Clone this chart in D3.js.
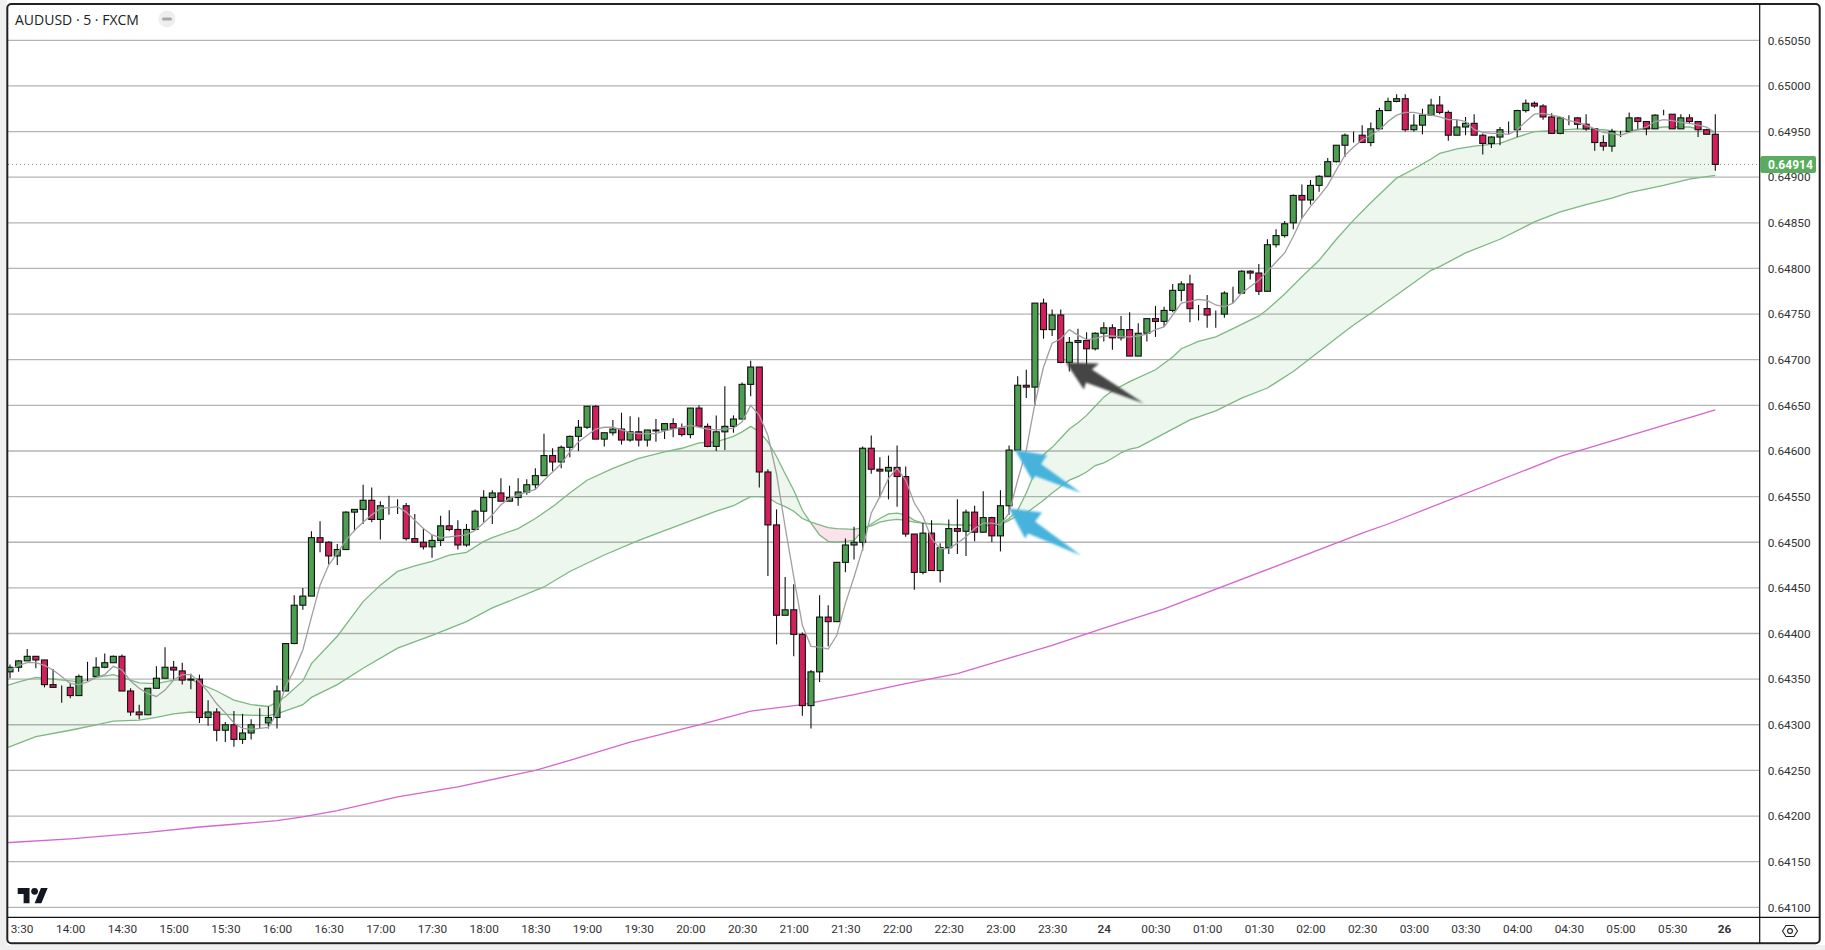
<!DOCTYPE html>
<html><head><meta charset="utf-8">
<script src="https://cdn.jsdelivr.net/npm/d3@7"></script>
<style>
html,body{margin:0;padding:0;background:#fff;overflow:hidden}
svg{display:block}
text{font-family:Roboto,sans-serif}
</style></head><body><svg id="c" width="1825" height="950"></svg>
<script>
// All prices in points of 0.00001
const opensPts=[64358,64363,64370,64375,64371,64344,64341,64341,64332,64353,
64353,64363,64368,64375,64337,64314,64311,64340,64351,64363,
64359,64350,64350,64308,64314,64294,64300,64284,64291,64301,
64302,64308,64337,64389,64431,64441,64505,64500,64485,64492,
64533,64536,64546,64525,64540,64540,64540,64504,64500,64495,
64502,64518,64514,64497,64514,64534,64549,64554,64545,64549,
64555,64563,64573,64595,64588,64604,64616,64626,64649,64613,
64620,64624,64612,64621,64612,64623,64623,64630,64625,64618,
64647,64627,64605,64621,64627,64635,64673,64692,64577,64519,
64420,64426,64399,64321,64358,64418,64413,64478,64497,64500,
64603,64580,64578,64582,64572,64509,64467,64510,64469,64494,
64515,64512,64533,64511,64527,64507,64540,64601,64672,64670,
64762,64733,64749,64697,64719,64721,64712,64729,64735,64724,
64733,64704,64729,64745,64742,64754,64776,64783,64756,64756,
64750,64750,64773,64773,64797,64795,64775,64826,64836,64850,
64880,64875,64891,64901,64917,64935,64946,64946,64938,64953,
64973,64983,64986,64952,64957,64968,64979,64971,64946,64955,
64959,64946,64937,64944,64952,64952,64973,64981,64978,64966,
64948,64965,64965,64958,64953,64938,64934,64950,64950,64965,
64961,64953,64969,64969,64953,64965,64961,64952,64947];
const highsPts=[64366,64371,64383,64375,64371,64361,64343,64346,64355,64369,
64374,64378,64376,64377,64340,64322,64340,64364,64385,64370,
64368,64356,64355,64327,64318,64303,64315,64312,64306,64318,
64320,64343,64389,64442,64450,64512,64523,64501,64498,64534,
64536,64563,64560,64545,64551,64547,64543,64531,64515,64508,
64529,64535,64524,64520,64536,64557,64557,64570,64562,64570,
64569,64581,64619,64603,64606,64617,64634,64649,64650,64620,
64634,64642,64638,64637,64623,64635,64630,64636,64630,64647,
64650,64630,64639,64671,64639,64675,64699,64692,64580,64536,
64462,64454,64401,64360,64442,64431,64478,64504,64517,64605,
64617,64593,64595,64606,64583,64509,64521,64524,64499,64525,
64547,64536,64540,64556,64528,64557,64606,64682,64689,64762,
64767,64755,64755,64725,64734,64730,64730,64741,64739,64748,
64752,64740,64745,64759,64758,64783,64786,64793,64760,64771,
64754,64775,64780,64798,64798,64805,64832,64843,64852,64881,
64892,64897,64902,64921,64935,64948,64950,64957,64960,64976,
64987,64991,64991,64969,64975,64986,64989,64973,64963,64966,
64969,64948,64945,64955,64961,64974,64985,64983,64980,64970,
64966,64968,64966,64969,64953,64946,64953,64951,64971,64966,
64961,64969,64974,64969,64969,64969,64961,64953,64969];
const lowsPts=[64351,64358,64370,64362,64341,64341,64324,64329,64332,64348,
64352,64362,64368,64337,64310,64306,64311,64340,64351,64349,
64344,64339,64302,64299,64282,64281,64276,64279,64284,64296,
64296,64296,64337,64389,64426,64441,64489,64476,64475,64492,
64512,64520,64522,64503,64530,64531,64502,64500,64492,64483,
64496,64512,64492,64495,64514,64522,64520,64545,64545,64540,
64552,64558,64573,64578,64581,64593,64600,64624,64613,64605,
64617,64607,64610,64605,64605,64610,64613,64615,64616,64614,
64627,64604,64600,64601,64620,64635,64660,64560,64463,64388,
64420,64375,64310,64296,64347,64386,64413,64467,64481,64491,
64575,64549,64547,64539,64506,64448,64465,64469,64456,64487,
64487,64485,64501,64511,64500,64490,64530,64601,64658,64650,
64723,64726,64696,64687,64682,64683,64710,64720,64711,64721,
64704,64704,64720,64725,64736,64752,64764,64741,64743,64735,
64735,64746,64762,64773,64788,64771,64775,64823,64834,64843,
64855,64870,64884,64901,64916,64922,64938,64938,64934,64953,
64973,64982,64950,64950,64947,64968,64969,64940,64946,64946,
64946,64925,64932,64935,64947,64944,64971,64976,64963,64948,
64947,64957,64953,64951,64929,64929,64928,64944,64950,64952,
64946,64953,64968,64953,64953,64959,64944,64947,64907];
const closesPts=[64363,64370,64375,64371,64344,64341,64341,64332,64353,64353,
64363,64368,64375,64337,64314,64311,64340,64351,64363,64360,
64349,64349,64308,64314,64294,64300,64284,64291,64300,64301,
64308,64337,64389,64431,64441,64505,64500,64485,64492,64533,
64536,64546,64525,64540,64540,64540,64504,64500,64495,64502,
64518,64514,64497,64514,64534,64549,64554,64545,64549,64555,
64563,64573,64595,64588,64604,64616,64626,64649,64613,64620,
64624,64612,64621,64612,64623,64622,64630,64625,64618,64647,
64627,64605,64621,64627,64635,64673,64692,64577,64519,64420,
64426,64399,64321,64358,64418,64413,64478,64497,64500,64603,
64580,64578,64582,64572,64509,64467,64510,64469,64494,64515,
64512,64533,64511,64527,64507,64540,64601,64672,64670,64762,
64733,64749,64697,64719,64721,64712,64729,64735,64724,64733,
64704,64729,64745,64742,64754,64776,64783,64756,64756,64749,
64750,64773,64773,64797,64795,64775,64826,64836,64849,64880,
64875,64891,64901,64917,64935,64946,64946,64938,64953,64973,
64983,64986,64952,64957,64968,64979,64971,64946,64955,64959,
64946,64937,64944,64952,64952,64973,64981,64978,64966,64948,
64965,64965,64958,64953,64938,64934,64950,64950,64965,64961,
64953,64968,64969,64953,64965,64961,64952,64947,64914];
const fastMaPts=[64360,64365,64368,64368,64365,64360,64353,64345,64344,64347,
64352,64355,64364,64360,64348,64340,64334,64331,64338,64349,
64355,64355,64347,64336,64323,64313,64302,64296,64295,64296,
64297,64313,64342,64360,64382,64418,64453,64475,64488,64502,
64513,64522,64530,64537,64538,64539,64533,64524,64515,64508,
64505,64506,64507,64508,64513,64521,64530,64541,64548,64552,
64555,64558,64568,64577,64586,64599,64610,64617,64624,64626,
64626,64623,64620,64619,64619,64619,64622,64624,64626,64628,
64626,64624,64623,64624,64625,64632,64650,64639,64617,64575,
64517,64462,64409,64386,64385,64383,64398,64433,64462,64493,
64532,64550,64570,64581,64568,64543,64528,64504,64493,64493,
64499,64506,64515,64521,64521,64519,64532,64568,64601,64652,
64692,64718,64723,64733,64727,64722,64723,64726,64726,64725,
64725,64726,64728,64733,64736,64749,64762,64764,64766,64765,
64760,64758,64762,64773,64780,64787,64797,64807,64817,64835,
64855,64868,64879,64891,64908,64924,64933,64941,64946,64952,
64961,64968,64971,64971,64969,64968,64966,64963,64963,64961,
64952,64949,64948,64948,64947,64952,64961,64969,64970,64968,
64966,64962,64960,64957,64953,64949,64948,64946,64949,64952,
64955,64961,64963,64962,64960,64959,64957,64955,64949];
// Read-off points of the slower averages: bar number, then value in points
const upperBars=[-1,0,1,3,5,7,8,10,12,14,15,17,19,21,22,24,26,28,30,31,32,34,35,38,41,43,45,47,49,51,53,55,56,59,61,63,65,67,70,73,76,78,80,82,84,85,86,87,88,89,90,91,92,93,94,95,96,97,98,99,100,101,102,103,104,105,106,107,110,113,115,116,117,118,119,120,121,122,123,124,125,126,127,128,130,133,135,136,138,140,142,145,146,148,150,152,154,156,158,160,161,163,165,166,168,170,173,175,177,179,182,185,187,189,192,195,198];
const upperPts=[64342,64344,64347,64352,64350,64348,64347,64352,64355,64349,64346,64345,64349,64350,64345,64337,64327,64322,64320,64325,64331,64348,64367,64397,64435,64453,64468,64474,64479,64486,64489,64501,64505,64515,64526,64539,64554,64568,64581,64592,64599,64603,64609,64610,64616,64621,64627,64621,64610,64594,64575,64557,64535,64521,64508,64501,64500,64501,64502,64513,64520,64526,64531,64532,64530,64524,64521,64520,64519,64518,64520,64526,64535,64554,64577,64596,64604,64614,64624,64631,64639,64649,64659,64666,64676,64689,64703,64712,64720,64725,64734,64748,64755,64772,64791,64809,64832,64853,64872,64890,64899,64909,64920,64926,64931,64934,64937,64944,64950,64951,64953,64952,64950,64952,64955,64955,64949];
const lowerBars=[-1,0,3,7,10,12,15,17,19,21,23,26,30,31,34,35,38,41,45,49,53,56,62,65,69,73,80,82,84,85,86,87,88,89,90,91,92,93,94,95,96,98,99,100,101,102,103,104,105,106,107,110,113,115,116,117,118,119,120,121,122,123,124,125,126,127,128,129,130,131,134,137,140,143,146,149,152,155,156,158,161,165,166,169,173,177,180,183,186,188,192,195,198];
const lowerPts=[64273,64276,64287,64294,64300,64304,64305,64308,64312,64314,64312,64311,64310,64312,64322,64330,64344,64362,64384,64398,64413,64428,64451,64468,64486,64502,64527,64534,64540,64545,64550,64550,64549,64543,64539,64534,64526,64522,64519,64516,64515,64514,64516,64518,64522,64524,64525,64524,64522,64521,64520,64519,64518,64519,64524,64529,64532,64539,64546,64554,64561,64568,64572,64577,64584,64587,64592,64598,64602,64604,64619,64634,64644,64658,64669,64687,64709,64731,64738,64751,64771,64798,64802,64817,64832,64851,64862,64870,64877,64883,64891,64898,64902];
const longBars=[-1,0,7,16,22,26,31,34,38,45,52,61,65,72,80,86,92,98,104,110,116,121,127,134,149,157,160,180,198];
const longPts=[64170,64171,64175,64182,64188,64191,64195,64199,64206,64221,64232,64250,64261,64281,64300,64315,64322,64333,64345,64356,64373,64387,64406,64427,64481,64510,64520,64594,64645];

const priceTicks=[0.6505,0.65,0.6495,0.649,0.6485,0.648,0.6475,0.647,0.6465,0.646,0.6455,0.645,0.6445,0.644,0.6435,0.643,0.6425,0.642,0.6415,0.641];
const timeTickBars=[1,7,13,19,25,31,37,43,49,55,61,67,73,79,85,91,97,103,109,115,121,127,133,139,145,151,157,163,169,175,181,187,193,199];
const timeTickLabels=["3:30","14:00","14:30","15:00","15:30","16:00","16:30","17:00","17:30","18:00","18:30","19:00","19:30","20:00","20:30","21:00","21:30","22:00","22:30","23:00","23:30","24","00:30","01:00","01:30","02:00","02:30","03:00","03:30","04:00","04:30","05:00","05:30","26"];
const lastPrice=0.64914;
const title="AUDUSD · 5 · FXCM";
// Where each arrow's tip points: bar number and price
const arrowTips=[{bar:116.7,price:0.64601,kind:"a"},{bar:116,price:0.64537,kind:"b"},{bar:122.6,price:0.64697,kind:"c"}];

const pts=v=>v/1e5;
const x=d3.scaleLinear().domain([0,198]).range([10,1715.3]);
const y=d3.scaleLinear().domain([0.6505,0.641]).range([40.3,907.3]);
const svg=d3.select("#c");

// page edge
svg.append("rect").attr("width",1825).attr("height",950).attr("fill","#fff");
svg.append("rect").attr("x",0).attr("y",0).attr("width",7).attr("height",950).attr("fill","#efefef");
svg.append("rect").attr("x",0).attr("y",945).attr("width",1825).attr("height",5).attr("fill","#f0f0f0");

const defs=svg.append("defs");
defs.append("clipPath").attr("id","plot").append("rect").attr("x",8).attr("y",5).attr("width",1751).attr("height",912);
defs.append("clipPath").attr("id","timeclip").append("rect").attr("x",8).attr("y",918).attr("width",1751).attr("height",25);
defs.append("filter").attr("id","soft").attr("x","-20%").attr("y","-20%").attr("width","140%").attr("height","140%")
  .append("feGaussianBlur").attr("stdDeviation",1.1);

const plot=svg.append("g").attr("clip-path","url(#plot)");

// grid
plot.append("g").selectAll("line").data(priceTicks).join("line")
  .attr("x1",8).attr("x2",1759).attr("y1",d=>y(d)).attr("y2",d=>y(d))
  .attr("stroke","#b4b4b4").attr("stroke-width",1.3);

// bands between the two averages
const upperAt=d3.scaleLinear().domain(upperBars).range(upperPts.map(pts));
const lowerAt=d3.scaleLinear().domain(lowerBars).range(lowerPts.map(pts));
const fine=d3.range(-1,198.01,0.125);
plot.append("path").datum(fine).attr("fill","rgba(76,175,80,0.10)")
  .attr("d",d3.area().x(d=>x(d)).y0(d=>y(lowerAt(d))).y1(d=>y(Math.max(upperAt(d),lowerAt(d)))));
plot.append("path").datum(fine).attr("fill","rgba(233,30,99,0.13)")
  .attr("d",d3.area().x(d=>x(d)).y0(d=>y(lowerAt(d))).y1(d=>y(Math.min(upperAt(d),lowerAt(d)))));

const line=d3.line().x(d=>x(d[0])).y(d=>y(pts(d[1])));
const zip=(a,b)=>a.map((v,i)=>[v,b[i]]);
plot.append("path").attr("d",line(zip(longBars,longPts))).attr("fill","none").attr("stroke","#d565cf").attr("stroke-width",1.3);
plot.append("path").attr("d",line(zip(lowerBars,lowerPts))).attr("fill","none").attr("stroke","#7db882").attr("stroke-width",1.3);
plot.append("path").attr("d",line(zip(upperBars,upperPts))).attr("fill","none").attr("stroke","#7db882").attr("stroke-width",1.3);

// last price line
plot.append("line").attr("x1",8).attr("x2",1759).attr("y1",y(lastPrice)).attr("y2",y(lastPrice))
  .attr("stroke","#6f9f72").attr("stroke-width",1).attr("stroke-dasharray","1 3");

// candles
const bars=opensPts.map((o,i)=>({i,o:pts(o),h:pts(highsPts[i]),l:pts(lowsPts[i]),c:pts(closesPts[i])}));
const cg=plot.append("g");
cg.selectAll("line").data(bars).join("line")
  .attr("x1",d=>x(d.i)).attr("x2",d=>x(d.i)).attr("y1",d=>y(d.h)).attr("y2",d=>y(d.l))
  .attr("stroke","#111").attr("stroke-width",1.1);
cg.selectAll("rect").data(bars).join("rect")
  .attr("x",d=>x(d.i)-3).attr("width",6)
  .attr("y",d=>y(Math.max(d.o,d.c))).attr("height",d=>Math.abs(y(d.o)-y(d.c)))
  .attr("fill",d=>d.c>=d.o?"#4c9f50":"#d2205c").attr("stroke","#111").attr("stroke-width",1.1);

// fast average over the candles
plot.append("path").attr("d",d3.line().x((d,i)=>x(i)).y(d=>y(pts(d)))(fastMaPts))
  .attr("fill","none").attr("stroke","#a29da3").attr("stroke-width",1.3);

// arrows
const shapes={
 a:{fill:"#46b3dd",p:[[0,0],[32,5],[26,14],[66,43],[20,26],[17,30]]},
 b:{fill:"#46b3dd",p:[[0,0],[33,4],[26,13],[72,47],[19,25],[16,30]]},
 c:{fill:"#444444",p:[[0,0],[33,1],[26,7],[78,41],[20,20],[18,27]]}
};
svg.append("g").selectAll("path").data(arrowTips).join("path")
  .attr("d",d=>d3.line()(shapes[d.kind].p)+"Z")
  .attr("transform",d=>`translate(${x(d.bar)},${y(d.price)})`)
  .attr("fill",d=>shapes[d.kind].fill).attr("filter","url(#soft)");

// TradingView mark
svg.append("path").attr("transform","translate(17.7,884.6) scale(0.845)")
  .attr("d","M14 22H7V11H0V4h14v18zM28 22h-8l7.5-18h8L28 22z").attr("fill","#131722");
svg.append("circle").attr("cx",17.7+20*0.845).attr("cy",884.6+8*0.845).attr("r",4*0.845).attr("fill","#131722");

// header
svg.append("text").attr("x",15).attr("y",24.5).attr("font-size",14).style("font-family","'Open Sans',sans-serif").attr("fill","#222").text(title);
svg.append("circle").attr("cx",167).attr("cy",19).attr("r",8.5).attr("fill","#eeeeee");
svg.append("rect").attr("x",162).attr("y",17.5).attr("width",10).attr("height",3).attr("rx",1.5).attr("fill","#a9a9a9");

// price axis
const yAxis=d3.axisRight(y).tickValues(priceTicks).tickSize(0).tickPadding(8).tickFormat(d3.format(".5f"));
const ya=svg.append("g").attr("transform","translate(1759.7,0)").call(yAxis);
ya.select(".domain").remove();
ya.selectAll("text").attr("font-family","Roboto,sans-serif").attr("font-size",11.8).attr("fill","#333");

// time axis
const xAxis=d3.axisBottom(x).tickValues(timeTickBars).tickSize(0).tickPadding(7)
  .tickFormat(d=>timeTickLabels[timeTickBars.indexOf(d)]);
const xa=svg.append("g").attr("clip-path","url(#timeclip)").append("g").attr("transform","translate(0,917.3)").call(xAxis);
xa.select(".domain").remove();
xa.selectAll("text").attr("font-family","Roboto,sans-serif").attr("font-size",11.8).attr("fill","#333")
  .attr("font-weight",d=>d===199?700:d===127?500:400)
  .attr("dx",d=>d===1?3:0);

// last price tag
svg.append("rect").attr("x",1760.5).attr("y",y(lastPrice)-8.5).attr("width",55.5).attr("height",17).attr("rx",2).attr("fill","#5aad5e");
svg.append("text").attr("x",1768).attr("y",y(lastPrice)+4.2).attr("font-size",12).attr("font-weight",700).attr("fill","#fff").text(d3.format(".5f")(lastPrice));

// frame
svg.append("rect").attr("x",7.3).attr("y",4).attr("width",1812.4).attr("height",939.3).attr("rx",4)
  .attr("fill","none").attr("stroke","#222").attr("stroke-width",2);
svg.append("line").attr("x1",1759.7).attr("x2",1759.7).attr("y1",4).attr("y2",943).attr("stroke","#111").attr("stroke-width",1.2);
svg.append("line").attr("x1",7.3).attr("x2",1820).attr("y1",917.3).attr("y2",917.3).attr("stroke","#111").attr("stroke-width",1.2);

// settings icon
svg.append("path").attr("d",d3.line()([[1782.5,931],[1786,925.5],[1794,925.5],[1797.5,931],[1794,936.5],[1786,936.5]])+"Z")
  .attr("fill","none").attr("stroke","#222").attr("stroke-width",1.1);
svg.append("circle").attr("cx",1790).attr("cy",931).attr("r",2.4).attr("fill","none").attr("stroke","#222").attr("stroke-width",1.1);
</script></body></html>
